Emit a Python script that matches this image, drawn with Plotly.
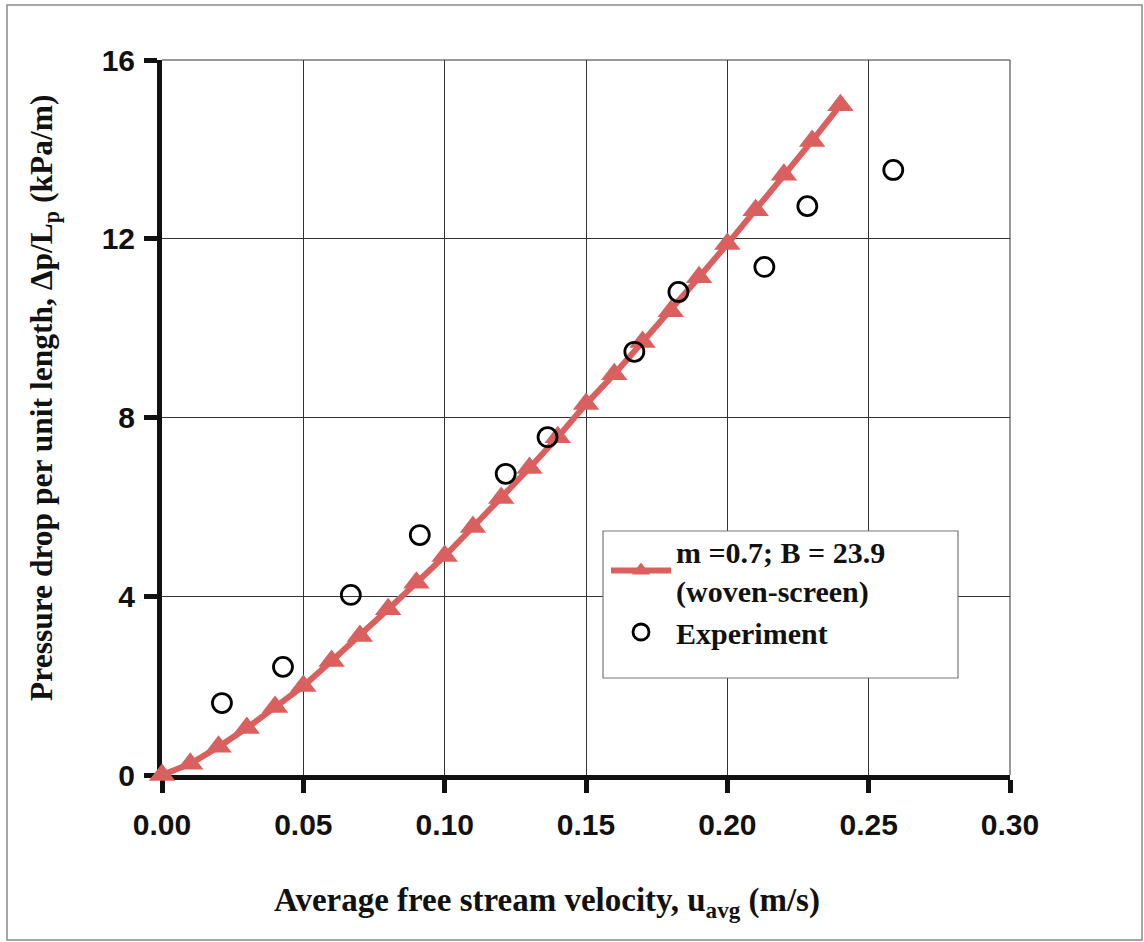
import plotly.graph_objects as go

# ---- data ----
model_u = [0.00, 0.01, 0.02, 0.03, 0.04, 0.05, 0.06, 0.07, 0.08, 0.09, 0.10, 0.11,
           0.12, 0.13, 0.14, 0.15, 0.16, 0.17, 0.18, 0.19, 0.20, 0.21, 0.22, 0.23, 0.24]
model_dp = [0.00, 0.25, 0.63, 1.05, 1.52, 1.99, 2.55, 3.11, 3.71, 4.30, 4.90, 5.55,
            6.20, 6.87, 7.56, 8.30, 8.97, 9.69, 10.38, 11.14, 11.88, 12.64, 13.43, 14.19, 14.99]
exp_u = [0.0212, 0.0428, 0.0668, 0.0912, 0.1216, 0.1364, 0.1671, 0.1827, 0.2131, 0.2283, 0.2587]
exp_dp = [1.61, 2.42, 4.03, 5.37, 6.74, 7.56, 9.47, 10.81, 11.37, 12.73, 13.54]

x_ticks = [0.00, 0.05, 0.10, 0.15, 0.20, 0.25, 0.30]
x_ticklabels = ["0.00", "0.05", "0.10", "0.15", "0.20", "0.25", "0.30"]
y_ticks = [0, 4, 8, 12, 16]
y_ticklabels = ["0", "4", "8", "12", "16"]

model_name = "m =0.7; B = 23.9<br>(woven-screen)"
exp_name = "Experiment"
x_title = "Average free stream velocity, u<sub>avg</sub> (m/s)"
y_title = "Pressure drop per unit length, \u0394p/L<sub>p</sub> (kPa/m)"

RED = "#d9605e"
SERIF = "Liberation Serif"
SANS = "Liberation Sans"

fig = go.Figure()
fig.add_trace(go.Scatter(
    x=model_u, y=model_dp, name=model_name, mode="lines+markers",
    line=dict(color=RED, width=6),
    marker=dict(symbol="triangle-up", size=23, color=RED),
    cliponaxis=False,
))
fig.add_trace(go.Scatter(
    x=exp_u, y=exp_dp, name=exp_name, mode="markers",
    marker=dict(symbol="circle-open", size=19, color="black", line=dict(width=2.8, color="black")),
    cliponaxis=False,
))

L, R, T, B = 162, 134, 60, 167
W, H = 1144, 942
pw, ph = W - L - R, H - T - B

def px2paper_x(px):
    return (px - L) / pw

def px2paper_y(py):
    return (H - B - py) / ph

fig.update_layout(
    width=W, height=H,
    margin=dict(l=L, r=R, t=T, b=B, pad=0),
    paper_bgcolor="white", plot_bgcolor="white",
    showlegend=True,
    legend=dict(
        x=px2paper_x(606), y=px2paper_y(525), xanchor="left", yanchor="top",
        bgcolor="rgba(0,0,0,0)", borderwidth=0,
        font=dict(family=SERIF, size=30, color="#111111", weight="bold"),
        tracegroupgap=2, itemwidth=60,
    ),
    xaxis=dict(
        range=[0, 0.30], tickmode="array", tickvals=x_ticks, ticktext=x_ticklabels,
        showgrid=True, gridcolor="#333333", gridwidth=1, zeroline=False,
        showline=True, linecolor="#111111", linewidth=5,
        ticks="outside", ticklen=13, tickwidth=5, tickcolor="#111111",
        tickfont=dict(family=SANS, size=30, color="#111111", weight="bold"),
        ticklabelstandoff=6, layer="below traces",
    ),
    yaxis=dict(
        range=[0, 16], tickmode="array", tickvals=y_ticks, ticktext=y_ticklabels,
        showgrid=True, gridcolor="#333333", gridwidth=1, zeroline=False,
        showline=True, linecolor="#111111", linewidth=5,
        ticks="outside", ticklen=13, tickwidth=5, tickcolor="#111111",
        tickfont=dict(family=SANS, size=30, color="#111111", weight="bold"),
        ticklabelstandoff=3, layer="below traces",
    ),
    shapes=[
        # thin top and right plot borders
        dict(type="line", xref="paper", yref="paper", x0=0, x1=1, y0=1, y1=1,
             line=dict(color="#333333", width=1)),
        dict(type="line", xref="paper", yref="paper", x0=1, x1=1, y0=0, y1=1,
             line=dict(color="#333333", width=1)),
        # legend frame (opaque, hides grid behind it)
        dict(type="rect", xref="paper", yref="paper",
             x0=px2paper_x(603), x1=px2paper_x(958), y0=px2paper_y(678), y1=px2paper_y(531),
             line=dict(color="#777777", width=1.2), fillcolor="white", layer="above"),
        # outer figure frame
        dict(type="rect", xref="paper", yref="paper",
             x0=px2paper_x(7), x1=px2paper_x(1142), y0=px2paper_y(940), y1=px2paper_y(5),
             line=dict(color="#8a8a8a", width=1.5), layer="below"),
    ],
    annotations=[
        dict(text=x_title, xref="paper", yref="paper",
             x=px2paper_x(547), y=px2paper_y(903), xanchor="center", yanchor="middle",
             showarrow=False, font=dict(family=SERIF, size=33, color="#111111", weight="bold")),
        dict(text=y_title, xref="paper", yref="paper",
             x=px2paper_x(44), y=px2paper_y(398), xanchor="center", yanchor="middle",
             textangle=-90, showarrow=False,
             font=dict(family=SERIF, size=31.5, color="#111111", weight="bold")),
    ],
)

fig.write_html("out.html")
